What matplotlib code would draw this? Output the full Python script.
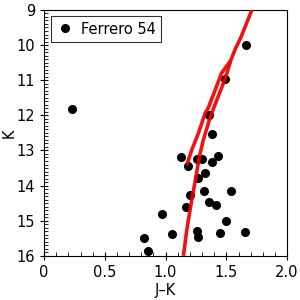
import matplotlib
matplotlib.use("Agg")
import matplotlib.pyplot as plt
from matplotlib.ticker import MultipleLocator, FuncFormatter

# Ferrero 54 stars (J-K, K)
star_jk = [0.233, 1.663, 1.49, 1.36, 1.38, 1.128, 1.188, 1.262, 1.303, 1.38, 1.435,
           1.325, 1.27, 1.20, 1.317, 1.539, 1.36, 1.413, 1.169, 0.974, 1.498,
           1.262, 1.449, 1.654, 1.056, 0.826, 1.27, 0.858]
star_k = [11.83, 10.0, 10.97, 12.0, 12.54, 13.20, 13.44, 13.25, 13.25, 13.34, 13.16,
          13.65, 13.78, 14.27, 14.14, 14.14, 14.47, 14.54, 14.62, 14.80, 15.0,
          15.29, 15.35, 15.32, 15.37, 15.48, 15.46, 15.85]

# Isochrone: RGB branch and AGB branch
rgb_jk = [1.147, 1.174, 1.215, 1.25, 1.278, 1.311, 1.36, 1.395, 1.465, 1.505, 1.535, 1.575, 1.62, 1.71]
rgb_k = [16.0, 15.27, 14.41, 13.75, 13.17, 12.70, 12.13, 11.80, 11.18, 10.80, 10.45, 10.10, 9.78, 9.0]
agb_jk = [1.174, 1.215, 1.27, 1.325, 1.35, 1.419, 1.46, 1.535]
agb_k = [13.41, 12.99, 12.51, 11.94, 11.80, 11.18, 10.80, 10.45]

fig = plt.figure(figsize=(3, 3), dpi=100)
ax = fig.add_axes([0.147, 0.147, 0.81, 0.82])

ax.plot(star_jk, star_k, 'o', color='black', markersize=5.5, label='Ferrero 54', zorder=2)
ax.plot(rgb_jk, rgb_k, '-', color='#ee0000', lw=2.6, alpha=0.92, solid_capstyle='butt', zorder=3)
ax.plot(agb_jk, agb_k, '-', color='#ee0000', lw=2.6, alpha=0.92, solid_capstyle='butt', zorder=3)

ax.set_xlim(0, 2.0)
ax.set_ylim(16, 9)
ax.xaxis.set_major_locator(MultipleLocator(0.5))
ax.xaxis.set_minor_locator(MultipleLocator(0.1))
ax.yaxis.set_major_locator(MultipleLocator(1))
ax.yaxis.set_minor_locator(MultipleLocator(0.1))
ax.tick_params(which='major', direction='inout', length=6, width=0.8, labelsize=10.5)
ax.tick_params(which='minor', direction='in', length=3, width=0.6)
ax.xaxis.set_major_formatter(FuncFormatter(lambda v, p: '0' if v == 0 else f'{v:.1f}'))
ax.set_xlabel('J–K', fontsize=10.5, labelpad=2)
ax.set_ylabel('K', fontsize=10.5)
ax.yaxis.set_label_coords(-0.115, 0.5)

leg = ax.legend(loc='upper left', frameon=True, fancybox=False, edgecolor='black',
                fontsize=10.5, handletextpad=0.5, handlelength=1.2, borderpad=0.35,
                bbox_to_anchor=(0.0, 1.0), borderaxespad=0.45)
leg.get_frame().set_linewidth(0.8)

fig.savefig('out.png', dpi=100)
